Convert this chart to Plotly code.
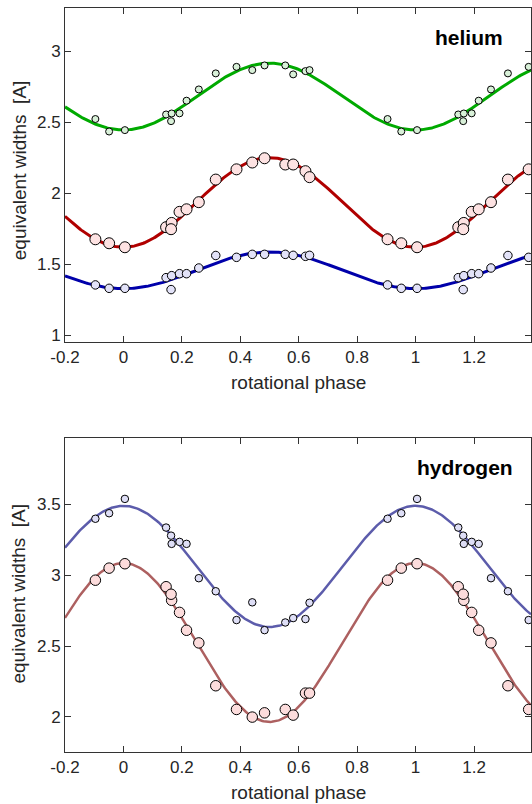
import numpy as np
import plotly.graph_objects as go

# ---------------- data ----------------
phase = [0.005, 0.146, 0.165, 0.163, 0.192, 0.216, 0.258, 0.316, 0.387,
         0.441, 0.483, 0.554, 0.581, 0.623, 0.637, 0.904, 0.951]

he_green = [2.444, 2.554, 2.561, 2.507, 2.562, 2.651, 2.730, 2.843, 2.889,
            2.866, 2.899, 2.899, 2.836, 2.859, 2.866, 2.522, 2.434]
he_red = [1.620, 1.761, 1.791, 1.747, 1.869, 1.887, 1.937, 2.096, 2.168,
          2.216, 2.246, 2.202, 2.202, 2.155, 2.113, 1.676, 1.648]
he_blue = [1.331, 1.406, 1.420, 1.322, 1.434, 1.434, 1.474, 1.562, 1.549,
           1.570, 1.570, 1.570, 1.563, 1.556, 1.563, 1.355, 1.331]

h_blue = [3.537, 3.335, 3.220, 3.278, 3.234, 3.220, 2.978, 2.886, 2.683,
          2.808, 2.612, 2.666, 2.697, 2.690, 2.805, 3.397, 3.436]
h_red = [3.080, 2.918, 2.822, 2.865, 2.737, 2.611, 2.522, 2.220, 2.053,
         1.999, 2.029, 2.053, 2.013, 2.168, 2.168, 2.964, 3.049]

# sinusoidal fits: (mean, amplitude) ; value = mean + amp*cos(2*pi*phase)
fit_he_green = (2.680, -0.235)
fit_he_red = (1.935, -0.315)
fit_he_blue = (1.458, -0.129)
fit_h_blue = (3.061, 0.427)
fit_h_red = (2.525, 0.560)

x_ticks = [-0.2, 0, 0.2, 0.4, 0.6, 0.8, 1.0, 1.2]
x_ticklabels = ["-0.2", "0", "0.2", "0.4", "0.6", "0.8", "1", "1.2"]
he_yticks = [1, 1.5, 2, 2.5, 3]
he_yticklabels = ["1", "1.5", "2", "2.5", "3"]
h_yticks = [2, 2.5, 3, 3.5]
h_yticklabels = ["2", "2.5", "3", "3.5"]

XMIN, XMAX = -0.2, 1.395

# ---------------- helpers ----------------
def fold(ph, val):
    xs, ys = [], []
    for s in (-1, 0, 1):
        for p, v in zip(ph, val):
            x = p + s
            if XMIN <= x <= XMAX:
                xs.append(x)
                ys.append(v)
    return xs, ys

grid = np.linspace(XMIN, XMAX, 400)

def curve(fit):
    m, a = fit
    return m + a * np.cos(2 * np.pi * grid)

fig = go.Figure()

def add_set(vals, fit, line_col, fill_col, msize, lw, xa, ya):
    fig.add_trace(go.Scatter(x=grid, y=curve(fit), mode="lines",
                             line=dict(color=line_col, width=lw),
                             xaxis=xa, yaxis=ya, showlegend=False,
                             hoverinfo="skip"))
    xs, ys = fold(phase, vals)
    fig.add_trace(go.Scatter(x=xs, y=ys, mode="markers",
                             marker=dict(size=msize, color=fill_col,
                                         line=dict(color="black", width=1)),
                             xaxis=xa, yaxis=ya, showlegend=False,
                             cliponaxis=False))

add_set(he_green, fit_he_green, "#00aa00", "#d8f0d8", 7, 3, "x", "y")
add_set(he_red, fit_he_red, "#b00000", "#fde2e2", 11, 3, "x", "y")
add_set(he_blue, fit_he_blue, "#0000aa", "#e2e2f8", 8.5, 3, "x", "y")
add_set(h_blue, fit_h_blue, "#5c5cab", "#dedef6", 7.5, 2.5, "x2", "y2")
add_set(h_red, fit_h_red, "#ad6060", "#fcdcdc", 10.5, 2.5, "x2", "y2")

FONT = "Liberation Sans, Arial, sans-serif"
AX = "#333333"
axis_common = dict(showline=True, linecolor=AX, linewidth=1, mirror="ticks",
                   ticks="inside", ticklen=6, tickcolor=AX, tickwidth=1,
                   showgrid=False, zeroline=False,
                   tickfont=dict(family=FONT, size=17, color="#262626"))

fig.update_layout(
    width=532, height=804,
    margin=dict(l=65, r=1, t=8, b=52),
    paper_bgcolor="white", plot_bgcolor="white",
    xaxis=dict(domain=[0, 1], anchor="y", range=[XMIN, XMAX],
               tickvals=x_ticks, ticktext=x_ticklabels, **axis_common),
    yaxis=dict(domain=[0.551, 1.0], anchor="x", range=[0.953, 3.303],
               tickvals=he_yticks, ticktext=he_yticklabels, **axis_common),
    xaxis2=dict(domain=[0, 1], anchor="y2", range=[XMIN, XMAX],
                tickvals=x_ticks, ticktext=x_ticklabels, **axis_common),
    yaxis2=dict(domain=[0.0, 0.422], anchor="x2", range=[1.753, 3.966],
                tickvals=h_yticks, ticktext=h_yticklabels, **axis_common),
    showlegend=False,
)

ann_font = dict(family=FONT, size=19, color="#262626")
for ypos in (0.496, -0.0538):
    fig.add_annotation(text="rotational phase", xref="paper", yref="paper",
                       x=0.5, y=ypos, xanchor="center", yanchor="middle",
                       showarrow=False, font=ann_font)
for ypos in (0.782, 0.213):
    fig.add_annotation(text="equivalent widths  [A]", xref="paper", yref="paper",
                       x=(19 - 65) / 466, y=ypos, xanchor="center",
                       yanchor="middle", textangle=-90, showarrow=False,
                       font=ann_font)

bold = dict(family=FONT, size=21, color="black", weight="bold")
fig.add_annotation(text="<b>helium</b>", xref="x domain", yref="y domain",
                   x=0.868, y=0.913, xanchor="center", yanchor="middle",
                   showarrow=False, font=bold)
fig.add_annotation(text="<b>hydrogen</b>", xref="x2 domain", yref="y2 domain",
                   x=0.858, y=0.905, xanchor="center", yanchor="middle",
                   showarrow=False, font=bold)

fig.write_html("out.html")
